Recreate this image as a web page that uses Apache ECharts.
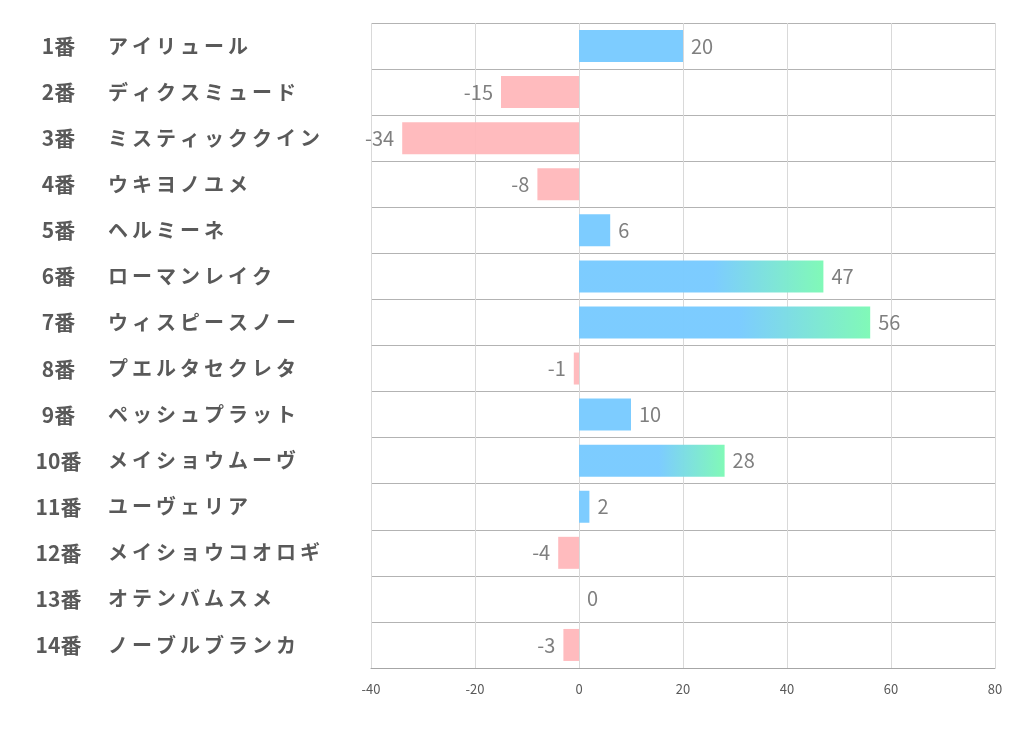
<!DOCTYPE html>
<html><head><meta charset="utf-8">
<script src="https://cdn.jsdelivr.net/npm/echarts@6/dist/echarts.min.js"></script>
<style>html,body{margin:0;padding:0;background:#fff}#c{width:1022px;height:730px}</style>
</head><body><div id="c"></div>
<script>
const numbers = ['1番','2番','3番','4番','5番','6番','7番','8番','9番','10番','11番','12番','13番','14番'];
const names = ['アイリュール','ディクスミュード','ミスティッククイン','ウキヨノユメ','ヘルミーネ','ローマンレイク','ウィスピースノー','プエルタセクレタ','ペッシュプラット','メイショウムーヴ','ユーヴェリア','メイショウコオロギ','オテンバムスメ','ノーブルブランカ'];
const values = [20,-15,-34,-8,6,47,56,-1,10,28,2,-4,0,-3];
const xTicks = [-40,-20,0,20,40,60,80];

const categories = numbers.map((n,i)=>n+'|'+names[i]);
const chart = echarts.init(document.getElementById('c'));
const BLUE='rgba(122,203,255,0.98)', GREEN='rgba(126,249,182,0.98)', PINK='rgba(255,183,186,0.95)';
const spaced = s => Array.from(s).join('\u2009');
chart.setOption({
  animation:false,
  grid:{left:371,right:27,top:23,bottom:62,containLabel:false},
  xAxis:{type:'value',min:xTicks[0],max:xTicks[xTicks.length-1],interval:20,
    axisLine:{show:true,lineStyle:{color:'#a6a6a6',width:1}},
    axisTick:{show:false},
    axisLabel:{color:'#595959',fontSize:13,margin:15,fontFamily:'"Noto Sans CJK JP","Noto Sans",sans-serif'},
    splitLine:{show:true,lineStyle:{color:'#d9d9d9',width:1}}},
  yAxis:{type:'category',data:categories,inverse:true,
    axisLine:{show:false},axisTick:{show:false},
    splitLine:{show:true,lineStyle:{color:'#b3b3b3',width:1}},
    axisLabel:{align:'left',margin:338,
      formatter:function(v){const p=v.split('|');return '{a|'+p[0]+'}{b|'+spaced(p[1])+'}';},
      rich:{
        a:{width:51,align:'right',fontSize:21,fontWeight:'bold',color:'#595959',fontFamily:'"Noto Sans CJK JP",sans-serif'},
        b:{padding:[0,0,0,24],align:'left',fontSize:20,fontWeight:'bold',color:'#595959',fontFamily:'"Noto Sans CJK JP",sans-serif'}
      }}},
  series:[{type:'bar',barWidth:32,
    data:values.map(v=>({value:v,label:{position:v<0?'left':'right'}})),
    itemStyle:{color:function(p){
      const v=p.value;
      if(v<0) return PINK;
      if(v>=25) return new echarts.graphic.LinearGradient(0,0,1,0,[{offset:0,color:BLUE},{offset:0.55,color:BLUE},{offset:1,color:GREEN}]);
      return BLUE;}},
    label:{show:true,distance:8,color:'#7f7f7f',fontSize:20,fontFamily:'"Noto Sans CJK JP","Noto Sans",sans-serif'}
  }]
});
</script></body></html>
